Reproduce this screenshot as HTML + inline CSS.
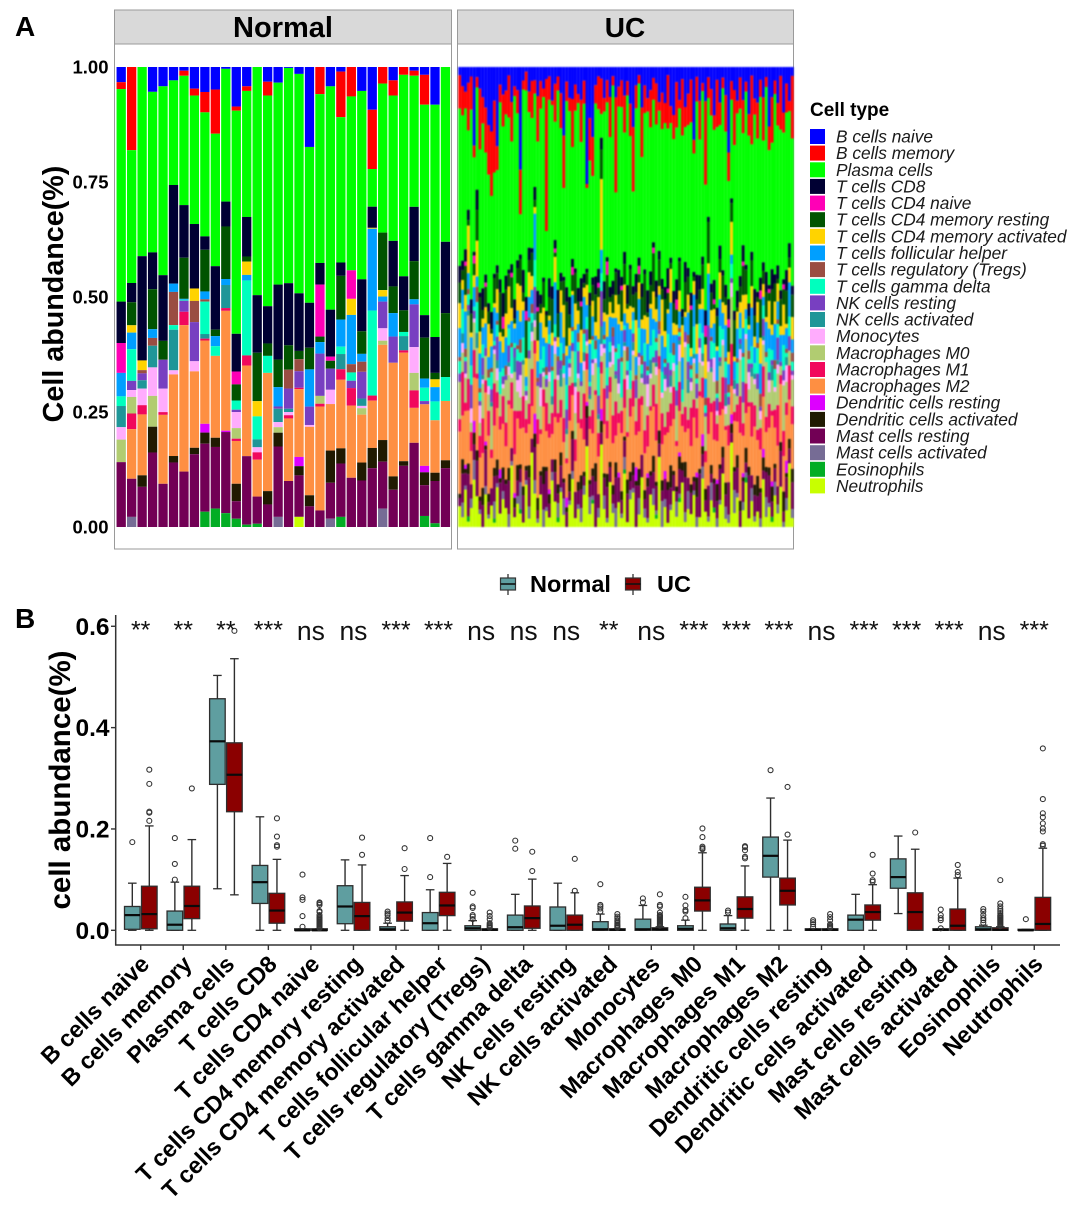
<!DOCTYPE html>
<html lang="en">
<head>
<meta charset="utf-8">
<title>Immune cell abundance in Normal and UC samples</title>
<style>
html,body{margin:0;padding:0;background:#fff;}
svg{display:block;font-family:"Liberation Sans",Arial,sans-serif;filter:blur(0.35px);}
.lg{font-size:17.3px;font-style:italic;fill:#1a1a1a;}
#ucBars{filter:blur(0.8px);}
</style>
</head>
<body>
<svg id="figure" xmlns="http://www.w3.org/2000/svg" width="1080" height="1210" viewBox="0 0 1080 1210">
  <rect x="0" y="0" width="1080" height="1210" fill="#fff"/>
  <text x="15" y="36" font-size="28" font-weight="bold">A</text>
  <text x="15" y="628" font-size="28" font-weight="bold">B</text>

  <rect x="114.5" y="10" width="337" height="34" fill="#d9d9d9" stroke="#9a9a9a" stroke-width="1"/>
  <rect x="457.5" y="10" width="336" height="34" fill="#d9d9d9" stroke="#9a9a9a" stroke-width="1"/>
  <text x="283" y="37" font-size="29" font-weight="bold" text-anchor="middle">Normal</text>
  <text x="625" y="37" font-size="28" font-weight="bold" text-anchor="middle">UC</text>
  <rect x="114.5" y="44" width="337" height="505" fill="#fff" stroke="#9a9a9a" stroke-width="1"/>
  <rect x="457.5" y="44" width="336" height="505" fill="#fff" stroke="#9a9a9a" stroke-width="1"/>
  <g id="normalBars"></g>
  <g id="ucBars"></g>
  <g id="stackTicks"></g>
  <text transform="translate(63,294) rotate(-90)" font-size="28.7" font-weight="bold" text-anchor="middle">Cell abundance(%)</text>

  <g>
    <text x="810" y="116" font-size="19" font-weight="bold">Cell type</text>
    <g><rect x="810" y="129" width="15" height="15" fill="#0000FF"/><text class="lg" x="836" y="142.5">B cells naive</text></g>
    <g><rect x="810" y="145.6" width="15" height="15" fill="#FF0000"/><text class="lg" x="836" y="159.1">B cells memory</text></g>
    <g><rect x="810" y="162.3" width="15" height="15" fill="#00FF00"/><text class="lg" x="836" y="175.8">Plasma cells</text></g>
    <g><rect x="810" y="178.9" width="15" height="15" fill="#000033"/><text class="lg" x="836" y="192.4">T cells CD8</text></g>
    <g><rect x="810" y="195.6" width="15" height="15" fill="#FF00B6"/><text class="lg" x="836" y="209.1">T cells CD4 naive</text></g>
    <g><rect x="810" y="212.2" width="15" height="15" fill="#005300"/><text class="lg" x="836" y="225.7">T cells CD4 memory resting</text></g>
    <g><rect x="810" y="228.8" width="15" height="15" fill="#FFD300"/><text class="lg" x="836" y="242.3">T cells CD4 memory activated</text></g>
    <g><rect x="810" y="245.5" width="15" height="15" fill="#009FFF"/><text class="lg" x="836" y="259">T cells follicular helper</text></g>
    <g><rect x="810" y="262.1" width="15" height="15" fill="#9A4D42"/><text class="lg" x="836" y="275.6">T cells regulatory (Tregs)</text></g>
    <g><rect x="810" y="278.8" width="15" height="15" fill="#00FFBE"/><text class="lg" x="836" y="292.3">T cells gamma delta</text></g>
    <g><rect x="810" y="295.4" width="15" height="15" fill="#783FC1"/><text class="lg" x="836" y="308.9">NK cells resting</text></g>
    <g><rect x="810" y="312" width="15" height="15" fill="#1F9698"/><text class="lg" x="836" y="325.5">NK cells activated</text></g>
    <g><rect x="810" y="328.7" width="15" height="15" fill="#FFACFD"/><text class="lg" x="836" y="342.2">Monocytes</text></g>
    <g><rect x="810" y="345.3" width="15" height="15" fill="#B1CC71"/><text class="lg" x="836" y="358.8">Macrophages M0</text></g>
    <g><rect x="810" y="362" width="15" height="15" fill="#F1085C"/><text class="lg" x="836" y="375.5">Macrophages M1</text></g>
    <g><rect x="810" y="378.6" width="15" height="15" fill="#FE8F42"/><text class="lg" x="836" y="392.1">Macrophages M2</text></g>
    <g><rect x="810" y="395.2" width="15" height="15" fill="#DD00FF"/><text class="lg" x="836" y="408.7">Dendritic cells resting</text></g>
    <g><rect x="810" y="411.9" width="15" height="15" fill="#201A01"/><text class="lg" x="836" y="425.4">Dendritic cells activated</text></g>
    <g><rect x="810" y="428.5" width="15" height="15" fill="#720055"/><text class="lg" x="836" y="442">Mast cells resting</text></g>
    <g><rect x="810" y="445.2" width="15" height="15" fill="#766C95"/><text class="lg" x="836" y="458.7">Mast cells activated</text></g>
    <g><rect x="810" y="461.8" width="15" height="15" fill="#02AD24"/><text class="lg" x="836" y="475.3">Eosinophils</text></g>
    <g><rect x="810" y="478.4" width="15" height="15" fill="#C8FF00"/><text class="lg" x="836" y="491.9">Neutrophils</text></g>
  </g>

  <g>
    <g>
      <line x1="508" y1="574" x2="508" y2="595" stroke="#333" stroke-width="1.3"/>
      <rect x="500.5" y="578" width="15" height="12" fill="#5F9EA0" stroke="#333" stroke-width="1.2"/>
      <line x1="500.5" y1="584" x2="515.5" y2="584" stroke="#111" stroke-width="1.6"/>
      <text x="530" y="592" font-size="23.5" font-weight="bold">Normal</text>
    </g>
    <g>
      <line x1="633" y1="574" x2="633" y2="595" stroke="#333" stroke-width="1.3"/>
      <rect x="625.5" y="578" width="15" height="12" fill="#8B0000" stroke="#333" stroke-width="1.2"/>
      <line x1="625.5" y1="584" x2="640.5" y2="584" stroke="#111" stroke-width="1.6"/>
      <text x="657" y="592" font-size="23.5" font-weight="bold">UC</text>
    </g>
  </g>

  <line x1="115.7" y1="615" x2="115.7" y2="945.5" stroke="#333" stroke-width="1.5"/>
  <line x1="115" y1="945" x2="1060" y2="945" stroke="#333" stroke-width="1.5"/>
  <g id="boxYAxis"></g>
  <text transform="translate(70,780) rotate(-90)" font-size="29.5" font-weight="bold" text-anchor="middle">cell abundance(%)</text>
  <g id="boxXAxis"></g>
  <g id="boxes"></g>
  <g id="sigLabels"></g>
</svg>

<script>
const typeColors = ["#0000FF","#FF0000","#00FF00","#000033","#FF00B6","#005300","#FFD300","#009FFF","#9A4D42","#00FFBE","#783FC1","#1F9698","#FFACFD","#B1CC71","#F1085C","#FE8F42","#DD00FF","#201A01","#720055","#766C95","#02AD24","#C8FF00"];
const stackTickValues = [0, 0.25, 0.5, 0.75, 1];
const stackTickLabels = ["0.00","0.25","0.50","0.75","1.00"];

// Normal samples: one row per sample, values in cell-type order (naive B ... neutrophils)
const normalAbundance = [
[3.3,1.5,46.2,9,6.5,0,0,5.1,0,2.1,0,4.6,2.7,4.9,0,0,0,0,14.1,0,0,0],
[0,18.1,28.9,4.2,0,5,1.6,3.6,0,6.9,2,0,1.5,3.6,3.4,10.8,0,0,8.3,2.2,0,0],
[0,0,41,22.6,0,0,2.1,0,.7,0,1.5,1.8,3.6,0,2,13.2,0,2.5,8.7,0,0,0],
[5.4,0,34.9,8,0,8.7,0,1.9,1.7,0,0,4.7,6.2,6.7,0,0,0,5.6,16.2,0,0,0],
[4.2,0,41.1,14.3,0,4.1,0,0,0,0,6.3,0,5.1,0,.6,15,0,0,9.4,0,0,0],
[2.9,0,22.7,21.4,0,0,0,1.8,7.2,1,0,8.8,.9,0,0,17.7,0,1.4,14,0,0,0],
[.8,1.1,28,11.4,0,8.9,0,.2,0,.2,2.4,0,0,0,2.9,31.7,0,0,12,0,0,0],
[4.7,1.5,27.9,14,0,0,2.7,0,4.6,0,8.5,0,2.2,0,0,16.6,0,1.4,15.8,0,0,0],
[5.4,4.4,26.8,2.9,0,9,0,1.7,.5,7,0,1,0,0,.4,18,1.9,2.4,14.7,0,3.3,0],
[4.9,9.6,28.8,13.8,0,1.4,0,2.2,0,2.1,0,0,0,0,0,17.8,0,2,13.4,0,4,0],
[.4,0,28.8,5.4,0,11.4,0,1.3,0,0,0,5,0,0,.6,26,.3,0,17.6,0,3,0],
[8.6,.9,48.5,8.2,2.8,3.5,0,0,0,2,.5,0,3.5,2.3,.5,9.3,0,3.8,3.8,0,1.8,0],
[4.2,1,27.4,8.6,0,1.1,2.9,1.2,0,16.3,0,0,0,0,2.2,19.7,0,0,14.9,0,.5,0],
[0,0,49.5,12.5,0,10.5,3.3,0,0,5,0,1.7,1.1,0,1.6,8,0,0,5.9,0,.7,0],
[3.2,3,45.8,8.1,0,2.7,0,0,0,3.7,0,0,0,0,0,25.7,0,2.9,4.9,0,0,0],
[3.4,0,43.9,16.3,0,6,0,4.2,0,0,.5,2.9,1.1,1.2,0,0,0,3,15.3,2.2,0,0],
[.2,0,46.8,13.5,0,5.3,0,0,4.1,0,4.4,.7,.7,0,.7,13.6,0,0,10,0,0,0],
[1.5,0,47.6,12.5,0,1.8,0,0,2.6,0,3.6,0,0,0,.3,14.7,2,2,9,0,0,2.2],
[17.4,0,33.9,9.8,0,4.7,0,8.1,0,0,4,0,.4,0,0,14.9,0,2.4,4.5,0,0,0],
[0,5.9,36.7,4.7,11.3,1.2,0,2.5,0,0,9.2,0,0,1.7,.6,22.6,0,0,3.6,0,0,0],
[4.2,0,48.5,10.2,.9,1.7,0,0,0,0,4.6,0,3.1,0,0,10.1,0,7,7.8,1.8,0,0],
[1,9.9,31.6,2.9,0,9.5,0,5.9,0,1.6,0,3.3,0,0,2.3,14.9,0,3.3,11.6,0,2.2,0],
[0,6.4,37.8,0,6.2,0,3.5,10.7,1.8,1.8,1.6,0,0,0,3.8,15.7,0,0,10.7,0,0,0],
[5.2,0,40.9,11.3,0,4.9,0,1.7,2.2,0,5.8,1.6,.5,1.4,0,10.4,0,3.9,10.1,0,0,0],
[9.3,12.9,8.2,4.6,0,0,.2,17.8,0,18.5,0,0,0,0,1.1,10.3,0,4.4,12.8,0,0,0],
[0,3.6,32.4,0,0,12.5,1.4,1.1,0,0,5.8,0,2.7,.9,0,20.7,0,4.7,10.2,4,0,0],
[2.9,3.3,31.6,9.9,0,5.8,0,5.1,0,0,5.7,0,0,0,0,24.7,0,2.9,8.1,0,0,0],
[0,1.7,43.8,7.4,0,4.7,0,0,0,.9,0,3.1,0,0,.5,23.6,0,1,13.3,0,0,0],
[.8,1.1,28.5,11.8,0,8.3,0,1.1,0,0,9.3,0,5.6,3.8,3.8,7.6,0,0,18.3,0,0,0],
[1.7,6.5,45.8,4.9,0,8.9,0,2,0,2.9,.7,0,0,0,0,13.4,1.4,2.8,6.7,0,2.4,0],
[8.2,0,50.5,7.8,0,1.4,1.7,3.1,0,4.1,0,0,0,0,0,11.4,0,1.8,9.2,0,.8,0],
[0,0,38,15.5,0,13.9,0,0,0,5.2,0,0,0,0,0,12.9,0,1.7,12.8,0,0,0]
];

// UC samples: one array per cell type, one estimated value per sample
const ucBNaive = [2,4,6,3,2,20,2,5,7,10,14,15,8,20,4,7,5,2,8,4,6,23,3,1,6,3,2,7,3,5,3,2,8,4,2,6,17,3,7,8,4,6,7,3,29,12,18,4,2,2,7,3,6,2,8,4,3,7,3,8,14,4,2,9,4,7,5,2,4,8,5,9,2,7,12,3,8,3,8,6,3,16,2,7,4,9,2,5,10,3,8,2,7,21,3,5,8,2,8,3,11,2,6,7,3,7,2,15,6,3,8,2,9,4,7,2];
const ucBMemory = [8,6,4,9,7,3,2,14,6,11,12,15,17,6,4,8,5,10,9,2,6,10,2,4,5,8,2,11,6,2,38,5,1,9,3,8,13,4,3,12,6,2,9,5,1,10,10,4,7,6,3,5,8,2,25,4,6,9,3,7,15,5,2,11,6,3,8,4,10,2,7,5,13,3,6,9,2,14,4,7,10,3,5,8,2,22,4,6,3,11,5,2,9,7,4,12,3,6,8,2,5,16,3,7,4,10,2,6,9,3,5,12,4,7,2,14];
const ucPlasma = [38,30,34,15,40,24,20,33,38,30,31,27,24,24,40,42,34,36,28,42,38,9,40,44,33,28,14,36,40,42,20,38,43,28,42,33,22,38,42,28,36,41,29,37,20,31,26,38,34,4,38,35,30,42,20,33,38,29,40,28,22,36,42,28,34,40,31,26,38,32,29,41,34,24,38,30,36,43,27,32,40,26,35,28,41,33,23,38,31,42,27,34,38,29,21,36,42,32,27,35,39,25,33,30,42,28,37,34,25,40,31,36,29,38,27,33];
const ucCD8 = [4,2,3,2,3,1,4,1,5,2,2,4,1,2,3,6,3,1,2,4,2,1,5,3,3,1,2,4,2,1,1,4,3,2,5,2,1,3,4,2,1,3,5,2,1,3,2,4,3,2,4,1,2,3,1,5,2,3,4,1,2,4,2,3,1,5,3,1,4,2,2,3,5,1,3,4,1,2,4,2,3,1,5,3,2,4,1,2,4,2,3,1,3,5,1,2,4,2,4,1,3,2,5,1,3,2,4,1,4,2,3,2,1,5,3,2];
const ucCD4Naive = [0,0,1,0,0,2,0,0,0,1,0,0,0,0,0,3,0,0,1,0,0,0,0,2,0,0,0,1,0,0,0,0,0,1,0,0,0,0,0,2,0,0,1,0,0,0,0,0,1,0,0,3,0,0,0,0,1,0,0,0,0,0,2,0,0,0,0,1,0,0,0,0,1,0,0,2,0,0,0,0,1,0,0,0,0,3,0,0,1,0,0,0,0,2,0,0,0,0,1,0,0,0,0,0,2,0,0,1,0,0,0,0,1,0,0,0];
const ucCD4Resting = [5,2,7,1,4,3,6,8,2,5,3,1,6,4,9,2,5,3,7,1,4,6,2,8,3,5,1,7,2,6,3,4,8,1,5,2,6,9,3,4,7,2,5,1,3,8,4,6,2,5,3,9,1,4,6,2,7,5,1,8,3,6,2,5,9,1,4,7,3,6,2,8,4,1,5,3,7,2,6,4,9,1,5,3,6,2,8,4,1,7,3,5,2,6,4,8,1,3,7,5,2,6,4,1,9,3,5,2,7,4,1,6,3,8,2,5];
const ucCD4Activated = [6,2,4,9,1,3,7,5,2,4,8,3,1,6,2,4,5,9,3,1,7,8,2,4,6,3,1,5,2,7,4,1,3,6,2,5,8,2,4,1,6,3,7,2,5,1,4,3,9,12,2,5,3,1,6,4,2,7,3,5,1,8,4,2,3,6,1,5,3,2,7,4,1,6,3,2,5,8,1,4,2,3,6,1,5,9,2,4,3,1,6,2,5,3,7,1,4,2,8,3,1,5,2,4,6,3,1,7,2,5,4,2,6,1,3,5];
const ucTfh = [7,4,9,3,6,5,2,8,4,6,3,5,8,2,7,4,6,1,5,3,9,4,6,2,5,3,7,4,8,2,6,3,5,10,2,7,4,6,3,8,5,2,4,7,3,9,5,1,6,4,3,7,5,2,8,4,6,3,5,9,2,4,7,6,3,5,8,2,4,6,7,3,5,9,2,6,4,8,3,5,2,7,4,3,6,5,10,2,4,7,6,3,8,5,2,4,7,3,6,2,5,9,3,4,7,2,6,5,3,8,4,6,2,5,7,3];
const ucTregs = [1,0,2,1,0,0,3,1,0,0,2,1,0,1,0,0,2,0,1,0,1,3,0,0,1,2,0,1,0,0,2,0,1,0,1,0,3,0,0,1,0,2,0,1,0,0,1,2,0,0,1,0,0,2,1,0,1,0,3,0,0,1,0,2,0,1,0,0,1,2,0,1,0,0,3,0,1,0,0,2,1,0,1,0,0,2,0,1,0,3,0,0,1,2,0,0,1,0,1,0,2,0,0,1,3,0,1,0,0,2,1,0,0,1,0,2];
const ucGammaDelta = [3,5,1,2,4,1,6,2,3,0,2,4,1,3,5,2,0,4,6,1,3,2,5,1,7,2,4,0,3,5,1,2,6,3,0,4,2,5,1,3,7,2,0,4,3,1,5,2,6,3,1,4,2,0,5,3,8,1,2,4,3,0,6,2,4,1,3,5,2,0,4,1,7,3,2,5,1,3,0,4,2,6,1,3,5,2,0,4,3,1,7,2,4,1,3,0,5,2,6,3,1,4,2,5,0,3,1,6,2,4,3,0,5,1,4,2];
const ucNKResting = [2,0,3,1,5,2,0,1,4,2,0,3,1,6,0,2,1,4,0,2,5,3,0,1,2,0,4,1,3,0,2,6,0,1,3,2,0,4,1,2,0,5,1,0,3,2,1,0,4,6,1,3,0,2,1,5,0,3,1,0,2,4,1,0,5,2,0,1,3,1,0,2,6,1,0,3,1,0,2,4,1,0,3,2,0,1,7,2,0,3,1,0,4,2,1,0,3,1,5,0,2,1,0,3,1,4,0,2,1,0,5,1,2,0,3,1];
const ucNKActivated = [0,2,0,1,0,0,3,0,1,0,0,1,0,2,0,0,0,1,0,3,0,0,1,0,0,2,1,0,0,1,0,0,2,0,0,4,0,1,0,0,1,0,0,2,0,1,0,0,1,3,0,0,2,0,1,0,0,1,0,0,2,0,0,1,0,0,3,0,1,0,0,1,0,2,0,0,1,0,0,3,0,1,0,0,2,0,0,1,0,0,1,0,3,0,0,2,0,1,0,0,0,2,1,0,0,1,0,0,3,0,1,0,0,2,0,0];
const ucMonocytes = [0,2,1,0,3,1,0,4,1,0,2,0,1,3,0,1,0,2,1,0,3,5,0,1,0,2,1,0,4,1,0,2,0,3,1,0,1,0,2,0,6,1,0,2,1,0,3,1,0,2,1,0,1,4,0,2,0,1,3,0,1,0,2,1,0,5,1,0,2,0,1,3,0,1,2,0,4,0,1,0,2,1,0,3,1,0,2,0,5,1,0,1,2,0,3,1,0,2,0,1,4,0,1,0,2,1,0,3,0,1,2,0,1,4,0,1];
const ucM0 = [9,4,6,12,2,7,5,3,8,6,4,10,7,3,5,2,9,6,1,8,5,3,7,4,11,6,2,8,5,3,4,9,2,6,7,3,10,5,2,8,6,3,7,5,2,4,9,6,3,1,8,5,2,11,6,4,3,7,9,2,6,5,8,3,10,2,6,4,7,5,3,9,6,2,4,7,5,3,12,6,4,8,2,6,3,9,5,7,4,2,8,6,3,5,10,4,2,7,5,9,3,6,4,8,2,5,11,3,6,4,7,2,9,5,3,6];
const ucM1 = [3,9,2,6,4,7,1,5,8,3,6,2,10,4,3,7,5,1,6,9,2,4,7,3,5,8,2,6,1,4,7,3,5,9,2,4,6,1,8,3,5,7,2,10,4,3,6,1,5,2,8,4,3,6,9,2,5,7,1,4,6,3,8,2,5,7,1,4,9,3,6,2,5,4,8,1,7,3,5,2,9,4,6,1,5,3,7,2,8,4,3,6,1,5,9,2,4,7,3,6,1,8,4,2,5,7,3,6,1,4,9,2,5,3,7,4];
const ucM2 = [15,9,13,10,7,11,14,9,8,12,14,7,10,13,9,11,7,15,9,8,12,8,13,7,10,7,9,13,8,14,9,11,6,10,13,8,9,7,12,9,7,13,10,7,8,12,9,15,8,6,11,8,14,9,7,10,13,7,9,12,13,7,9,11,8,6,13,9,10,14,7,9,12,7,13,8,10,9,6,11,9,13,7,15,9,7,10,12,8,9,11,7,13,9,6,10,8,13,9,7,14,9,11,7,9,12,7,10,13,8,9,13,7,11,8,10];
const ucDCResting = [0,0,1,0,0,3,0,0,0,1,0,0,0,0,2,0,0,0,0,1,0,0,0,0,0,0,3,0,0,0,0,1,0,0,0,0,0,2,0,0,0,0,0,0,1,0,0,0,0,2,0,0,0,0,0,1,0,0,0,0,0,3,0,0,0,1,0,0,0,0,0,2,0,0,0,0,1,0,0,0,0,0,1,0,3,0,0,0,0,1,0,0,0,0,2,0,0,0,1,0,0,0,0,0,0,2,0,0,1,0,0,0,0,3,0,0];
const ucDCActivated = [1,3,1,2,0,3,2,1,4,1,2,0,2,4,1,3,1,3,0,2,4,1,2,1,3,0,2,3,1,4,1,2,0,3,2,3,1,1,4,2,0,2,3,1,3,1,2,4,0,2,1,3,1,2,4,0,2,1,3,2,3,1,4,0,2,2,1,3,1,3,2,0,2,4,1,1,3,2,3,0,2,1,4,1,2,3,0,2,1,4,1,2,3,0,2,1,3,2,1,3,2,0,2,4,1,3,1,2,3,1,0,2,4,1,2,3];
const ucMastResting = [2,6,3,8,3,4,7,2,5,9,3,4,6,2,7,3,5,8,3,2,4,3,6,2,7,3,5,2,4,6,9,3,3,7,2,5,4,3,2,8,6,3,4,2,7,3,5,10,3,2,4,7,3,2,8,5,3,4,6,2,3,9,3,5,2,7,4,3,6,3,2,5,8,3,4,2,6,3,7,3,5,2,4,9,3,3,6,2,5,4,7,3,3,8,2,4,6,3,5,2,10,3,4,3,6,2,5,7,3,3,4,8,2,5,3,6];
const ucMastActivated = [0,3,1,0,2,5,0,1,0,2,1,0,4,1,0,2,0,3,1,0,2,6,0,1,3,0,2,1,0,4,1,0,2,0,3,1,4,0,1,2,0,1,3,2,0,4,1,0,2,0,3,1,0,2,5,0,1,3,0,2,1,0,4,0,2,1,0,3,1,0,5,2,0,1,0,3,1,0,2,4,0,1,2,0,3,0,1,4,0,2,1,0,3,2,0,5,1,0,2,1,0,3,1,0,2,0,4,1,0,3,2,0,1,3,0,2];
const ucEosinophils = [0,0,0,1,0,0,0,0,0,0,0,0,1,0,0,0,0,0,0,0,0,1,0,0,0,0,0,0,0,0,0,0,0,0,1,0,0,0,0,0,0,0,0,0,0,0,1,0,0,0,0,0,0,0,0,0,0,1,0,0,0,0,0,0,0,0,0,0,1,0,0,0,0,0,0,0,1,0,0,0,0,0,0,0,0,0,0,0,1,0,0,0,0,0,0,0,0,0,0,1,0,0,0,0,0,0,0,0,1,0,0,0,0,0,0,0];
const ucNeutrophils = [5,2,9,1,4,12,6,3,0,8,2,5,1,10,3,7,4,0,14,2,6,3,1,9,2,16,5,1,7,0,4,2,11,6,1,8,3,0,5,12,2,4,1,7,20,3,6,0,2,14,4,1,9,3,0,5,2,13,1,6,8,0,3,11,2,1,7,4,2,16,0,5,1,3,9,2,6,11,1,4,3,7,0,2,12,4,1,6,3,0,5,10,2,1,18,3,7,0,4,9,2,6,1,3,0,11,2,5,1,7,3,9,0,4,13,2];

const boxCategories = ["B cells naive","B cells memory","Plasma cells","T cells CD8","T cells CD4 naive","T cells CD4 memory resting","T cells CD4 memory activated","T cells follicular helper","T cells regulatory (Tregs)","T cells gamma delta","NK cells resting","NK cells activated","Monocytes","Macrophages M0","Macrophages M1","Macrophages M2","Dendritic cells resting","Dendritic cells activated","Mast cells resting","Mast cells activated","Eosinophils","Neutrophils"];
const sigValues = ["**","**","**","***","ns","ns","***","***","ns","ns","ns","**","ns","***","***","***","ns","***","***","***","ns","***"];
const boxTickValues = [0, 0.2, 0.4, 0.6];
const boxTickLabels = ["0.0","0.2","0.4","0.6"];

const normalLow  = [0,0,.082,0,0,0,0,0,0,0,0,0,0,0,0,0,0,0,.033,0,0,0];
const normalQ1   = [.002,0,.288,.053,0,.013,0,0,0,0,0,0,0,0,0,.105,0,0,.083,0,0,0];
const normalMed  = [.03,.011,.373,.095,0,.047,.002,.014,.004,.006,.009,.002,.002,.003,.004,.147,.001,.021,.105,.001,.002,0];
const normalQ3   = [.047,.038,.457,.128,.003,.088,.007,.035,.009,.03,.046,.017,.022,.009,.0125,.184,.003,.03,.141,.003,.007,.002];
const normalHigh = [.093,.095,.503,.224,.003,.139,.014,.08,.019,.071,.093,.032,.049,.02,.029,.261,.003,.071,.186,.003,.01,.002];
const normalOutliers = [[.174],[.1,.131,.182],[],[],[.007,.028,.06,.065,.11],[],[.019,.024,.03,.033,.037],[.105,.182],[.022,.027,.03,.044,.047,.074],[.161,.177],[],[.037,.043,.047,.05,.091],[.055,.063],[.024,.037,.04,.049,.066],[.035,.039],[.316],[.007,.012,.016,.02],[],[],[.004,.02,.024,.03,.041],[.015,.02,.024,.03,.037,.042],[.022]];

const ucLow  = [0,0,.07,0,0,0,0,0,0,0,0,0,0,0,0,0,0,0,0,0,0,0];
const ucQ1   = [.003,.023,.234,.014,0,0,.018,.029,0,.004,0,0,0,.038,.024,.05,0,.02,0,0,0,0];
const ucMed  = [.032,.048,.307,.039,0,.028,.035,.049,.001,.024,.011,.001,.002,.059,.042,.078,.001,.036,.036,.009,.001,.0125];
const ucQ3   = [.087,.087,.37,.073,.003,.055,.056,.075,.003,.048,.03,.003,.005,.085,.066,.103,.003,.05,.074,.042,.005,.065];
const ucHigh = [.206,.179,.536,.14,.003,.129,.108,.132,.003,.101,.074,.003,.007,.153,.127,.178,.003,.09,.16,.103,.007,.162];
const ucOutliers = [[.216,.232,.234,.289,.317],[.28],[.591],[.165,.168,.185,.221],[.004,.006,.008,.01,.012,.014,.016,.018,.02,.022,.024,.026,.03,.036,.038,.05,.053,.055],[.149,.183],[.121,.162],[.145],[.005,.007,.009,.011,.014,.022,.028,.035],[.117,.155],[.078,.141],[.005,.007,.009,.011,.014,.017,.02,.024,.027,.032],[.009,.011,.013,.015,.017,.019,.021,.023,.025,.027,.029,.03,.035,.047,.05,.071],[.16,.162,.165,.184,.201],[.142,.145,.158,.164,.166],[.189,.283],[.005,.007,.009,.012,.02,.026,.032],[.096,.099,.112,.149],[.193],[.109,.115,.129],[.008,.01,.012,.014,.016,.018,.02,.022,.024,.026,.028,.03,.034,.038,.042,.047,.053,.099],[.167,.17,.195,.201,.211,.223,.231,.259,.359]];

const ucSeries = [ucBNaive,ucBMemory,ucPlasma,ucCD8,ucCD4Naive,ucCD4Resting,ucCD4Activated,ucTfh,ucTregs,ucGammaDelta,ucNKResting,ucNKActivated,ucMonocytes,ucM0,ucM1,ucM2,ucDCResting,ucDCActivated,ucMastResting,ucMastActivated,ucEosinophils,ucNeutrophils];

const SVGNS = "http://www.w3.org/2000/svg";
function make(tag, attrs, parent) {
  const el = document.createElementNS(SVGNS, tag);
  for (const k in attrs) el.setAttribute(k, attrs[k]);
  parent.appendChild(el);
  return el;
}

/* ---------- Panel A ---------- */
const stackY = v => 527 - v * 460;
const normalBars = document.getElementById("normalBars");
const ucBars = document.getElementById("ucBars");
const stackTicks = document.getElementById("stackTicks");

function drawStack(values, cx, width, nameBase, group) {
  const total = values.reduce((a, b) => a + (b || 0), 0);
  let cum = 0;
  values.forEach((v, t) => {
    if (!v) return;
    const top = stackY(1 - cum / total);
    cum += v;
    const bottom = stackY(1 - cum / total);
    const seg = make("rect", {x: cx - width / 2, y: top, width: width, height: bottom - top, fill: typeColors[t]}, group);
    
    
  });
}

const normalX = i => 121.2 + i * 10.46;
normalAbundance.forEach((row, i) => drawStack(row, normalX(i), 9.3, 'normal-bar-segment', normalBars));

const ucCount = ucPlasma.length;
const ucX = i => 459.7 + i * (332.6 / (ucCount - 1));
for (let i = 0; i < ucCount; i++) {
  drawStack(ucSeries.map(s => s[i] || 0), ucX(i), 2.88, 'uc-bar-segment', ucBars);
}

stackTickValues.forEach((v, i) => {
  const t = make("text", {x: 108.5, y: stackY(v) + 6.5, "font-size": 18.5, "font-weight": "bold", "text-anchor": "end"}, stackTicks);
  t.textContent = stackTickLabels[i];
  
  
});

/* ---------- Panel B ---------- */
const boxY = v => 930.3 - v * 506.7;
const catX = i => 140.7 + i * 42.55;
const boxesGroup = document.getElementById("boxes");
const boxYAxis = document.getElementById("boxYAxis");
const boxXAxis = document.getElementById("boxXAxis");
const sigGroup = document.getElementById("sigLabels");

boxTickValues.forEach((v, i) => {
  const tick = make("line", {x1: 111, x2: 115.7, y1: boxY(v), y2: boxY(v), stroke: "#333", "stroke-width": 1.4}, boxYAxis);
  
  
  const t = make("text", {x: 109.5, y: boxY(v) + 8.5, "font-size": 24.5, "font-weight": "bold", "text-anchor": "end"}, boxYAxis);
  t.textContent = boxTickLabels[i];
  
  
});

function drawBox(cx, low, q1, med, q3, high, outliers, fill, name) {
  const g = make("g", {}, boxesGroup);
  
  
  const stroke = "#2e2e2e";
  make("line", {x1: cx, x2: cx, y1: boxY(high), y2: boxY(low), stroke: stroke, "stroke-width": 1.4}, g);
  make("line", {x1: cx - 4.3, x2: cx + 4.3, y1: boxY(high), y2: boxY(high), stroke: stroke, "stroke-width": 1.3}, g);
  make("line", {x1: cx - 4.3, x2: cx + 4.3, y1: boxY(low), y2: boxY(low), stroke: stroke, "stroke-width": 1.3}, g);
  make("rect", {x: cx - 7.8, y: boxY(q3), width: 15.6, height: Math.max(boxY(q1) - boxY(q3), 0.6), fill: fill, stroke: stroke, "stroke-width": 1.3}, g);
  make("line", {x1: cx - 7.8, x2: cx + 7.8, y1: boxY(med), y2: boxY(med), stroke: "#0a0a0a", "stroke-width": 2.2}, g);
  outliers.forEach(v => {
    make("circle", {cx: cx, cy: boxY(v), r: 2.5, fill: "none", stroke: "#333", "stroke-width": 1.1}, g);
  });
}

boxCategories.forEach((label, i) => {
  const cx = catX(i);
  const tick = make("line", {x1: cx, x2: cx, y1: 945, y2: 950, stroke: "#333", "stroke-width": 1.4}, boxXAxis);
  
  
  const t = make("text", {transform: "translate(" + (cx + 10) + ",965.5) rotate(-45)", "font-size": 23.4, "font-weight": "bold", "text-anchor": "end"}, boxXAxis);
  t.textContent = label;
  
  

  drawBox(cx - 8.4, normalLow[i], normalQ1[i], normalMed[i], normalQ3[i], normalHigh[i], normalOutliers[i], "#5F9EA0", 'normal-box');
  drawBox(cx + 8.6, ucLow[i], ucQ1[i], ucMed[i], ucQ3[i], ucHigh[i], ucOutliers[i], "#8B0000", 'uc-box');

  const isNs = sigValues[i] === "ns";
  const s = make("text", {x: cx, y: isNs ? 640 : 638.5, "font-size": isNs ? 26.5 : 25, "text-anchor": "middle", fill: "#111"}, sigGroup);
  s.textContent = sigValues[i];
  
  
});
</script>
</body>
</html>
